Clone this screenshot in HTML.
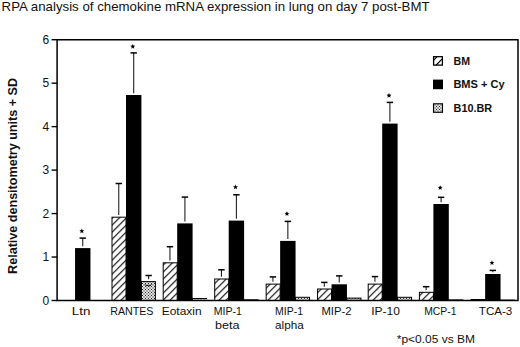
<!DOCTYPE html>
<html><head><meta charset="utf-8"><style>
html,body{margin:0;padding:0;background:#fff;}
body{width:520px;height:347px;overflow:hidden;}
svg{display:block;}
text{font-family:"Liberation Sans",sans-serif;fill:#111;}
</style></head><body>
<svg width="520" height="347" viewBox="0 0 520 347">
<defs>
<pattern id="hatch" patternUnits="userSpaceOnUse" x="0" y="1.3" width="7" height="7">
<path d="M-1,1 L1,-1 M0,7 L7,0 M6,8 L8,6" stroke="#000" stroke-width="1.1"/>
</pattern>
<pattern id="dots" patternUnits="userSpaceOnUse" width="3" height="3">
<rect width="3" height="3" fill="#fff"/>
<circle cx="0" cy="0" r="0.75" fill="#333"/><circle cx="3" cy="0" r="0.75" fill="#333"/><circle cx="0" cy="3" r="0.75" fill="#333"/><circle cx="3" cy="3" r="0.75" fill="#333"/>
<circle cx="1.5" cy="1.5" r="0.75" fill="#333"/>
</pattern>
</defs>
<text x="1.6" y="11" font-size="12.6" textLength="428" lengthAdjust="spacingAndGlyphs">RPA analysis of chemokine mRNA expression in lung on day 7 post-BMT</text>
<text transform="translate(17.3,273.9) rotate(-90)" font-size="12.5" font-weight="bold" textLength="195.9" lengthAdjust="spacingAndGlyphs">Relative densitometry units + SD</text>
<g font-size="12">
<line x1="51.6" y1="300.50" x2="57" y2="300.50" stroke="#000" stroke-width="1.4"/>
<text x="49.2" y="304.80" text-anchor="end">0</text>
<line x1="51.6" y1="257.03" x2="57" y2="257.03" stroke="#000" stroke-width="1.4"/>
<text x="49.2" y="261.33" text-anchor="end">1</text>
<line x1="51.6" y1="213.57" x2="57" y2="213.57" stroke="#000" stroke-width="1.4"/>
<text x="49.2" y="217.87" text-anchor="end">2</text>
<line x1="51.6" y1="170.10" x2="57" y2="170.10" stroke="#000" stroke-width="1.4"/>
<text x="49.2" y="174.40" text-anchor="end">3</text>
<line x1="51.6" y1="126.63" x2="57" y2="126.63" stroke="#000" stroke-width="1.4"/>
<text x="49.2" y="130.93" text-anchor="end">4</text>
<line x1="51.6" y1="83.17" x2="57" y2="83.17" stroke="#000" stroke-width="1.4"/>
<text x="49.2" y="87.47" text-anchor="end">5</text>
<line x1="51.6" y1="39.70" x2="57" y2="39.70" stroke="#000" stroke-width="1.4"/>
<text x="49.2" y="44.00" text-anchor="end">6</text>
</g>
<rect x="75.05" y="248.10" width="15.40" height="52.40" fill="#000"/>
<line x1="82.75" y1="238.10" x2="82.75" y2="246.30" stroke="#222" stroke-width="1.1"/>
<line x1="79.55" y1="238.10" x2="85.95" y2="238.10" stroke="#000" stroke-width="1.5"/>
<polygon points="81.85,228.55 82.54,230.20 84.32,230.35 82.96,231.51 83.38,233.25 81.85,232.32 80.32,233.25 80.74,231.51 79.38,230.35 81.16,230.20" fill="#000"/>
<rect x="112.00" y="217.20" width="14.00" height="83.30" fill="url(#hatch)" stroke="#000" stroke-width="1"/>
<line x1="118.75" y1="183.50" x2="118.75" y2="214.90" stroke="#222" stroke-width="1.1"/>
<line x1="115.55" y1="183.50" x2="121.95" y2="183.50" stroke="#000" stroke-width="1.5"/>
<rect x="141.40" y="281.60" width="14.00" height="18.90" fill="url(#dots)" stroke="#000" stroke-width="1"/>
<line x1="148.65" y1="275.50" x2="148.65" y2="279.30" stroke="#222" stroke-width="1.1"/>
<line x1="145.45" y1="275.50" x2="151.85" y2="275.50" stroke="#000" stroke-width="1.5"/>
<rect x="126.00" y="95.00" width="15.40" height="205.50" fill="#000"/>
<line x1="133.70" y1="52.90" x2="133.70" y2="93.20" stroke="#222" stroke-width="1.1"/>
<line x1="130.50" y1="52.90" x2="136.90" y2="52.90" stroke="#000" stroke-width="1.5"/>
<polygon points="132.80,43.95 133.49,45.60 135.27,45.75 133.91,46.91 134.33,48.65 132.80,47.72 131.27,48.65 131.69,46.91 130.33,45.75 132.11,45.60" fill="#000"/>
<rect x="163.20" y="262.80" width="14.00" height="37.70" fill="url(#hatch)" stroke="#000" stroke-width="1"/>
<line x1="169.95" y1="246.70" x2="169.95" y2="260.50" stroke="#222" stroke-width="1.1"/>
<line x1="166.75" y1="246.70" x2="173.15" y2="246.70" stroke="#000" stroke-width="1.5"/>
<rect x="192.60" y="298.50" width="14.00" height="2.00" fill="url(#dots)" stroke="#000" stroke-width="1"/>
<rect x="177.20" y="223.40" width="15.40" height="77.10" fill="#000"/>
<line x1="184.90" y1="197.10" x2="184.90" y2="221.60" stroke="#222" stroke-width="1.1"/>
<line x1="181.70" y1="197.10" x2="188.10" y2="197.10" stroke="#000" stroke-width="1.5"/>
<rect x="214.70" y="279.00" width="14.00" height="21.50" fill="url(#hatch)" stroke="#000" stroke-width="1"/>
<line x1="221.45" y1="269.80" x2="221.45" y2="276.70" stroke="#222" stroke-width="1.1"/>
<line x1="218.25" y1="269.80" x2="224.65" y2="269.80" stroke="#000" stroke-width="1.5"/>
<rect x="244.10" y="299.80" width="14.00" height="0.70" fill="url(#dots)" stroke="#000" stroke-width="1"/>
<rect x="228.70" y="220.60" width="15.40" height="79.90" fill="#000"/>
<line x1="236.40" y1="194.80" x2="236.40" y2="218.80" stroke="#222" stroke-width="1.1"/>
<line x1="233.20" y1="194.80" x2="239.60" y2="194.80" stroke="#000" stroke-width="1.5"/>
<polygon points="235.50,184.55 236.19,186.20 237.97,186.35 236.61,187.51 237.03,189.25 235.50,188.32 233.97,189.25 234.39,187.51 233.03,186.35 234.81,186.20" fill="#000"/>
<rect x="266.15" y="284.10" width="14.00" height="16.40" fill="url(#hatch)" stroke="#000" stroke-width="1"/>
<line x1="272.90" y1="276.90" x2="272.90" y2="281.80" stroke="#222" stroke-width="1.1"/>
<line x1="269.70" y1="276.90" x2="276.10" y2="276.90" stroke="#000" stroke-width="1.5"/>
<rect x="295.55" y="297.30" width="14.00" height="3.20" fill="url(#dots)" stroke="#000" stroke-width="1"/>
<rect x="280.15" y="240.90" width="15.40" height="59.60" fill="#000"/>
<line x1="287.85" y1="221.40" x2="287.85" y2="239.10" stroke="#222" stroke-width="1.1"/>
<line x1="284.65" y1="221.40" x2="291.05" y2="221.40" stroke="#000" stroke-width="1.5"/>
<polygon points="286.95,211.15 287.64,212.80 289.42,212.95 288.06,214.11 288.48,215.85 286.95,214.92 285.42,215.85 285.84,214.11 284.48,212.95 286.26,212.80" fill="#000"/>
<rect x="317.55" y="289.00" width="14.00" height="11.50" fill="url(#hatch)" stroke="#000" stroke-width="1"/>
<line x1="324.30" y1="282.40" x2="324.30" y2="286.70" stroke="#222" stroke-width="1.1"/>
<line x1="321.10" y1="282.40" x2="327.50" y2="282.40" stroke="#000" stroke-width="1.5"/>
<rect x="346.95" y="298.10" width="14.00" height="2.40" fill="url(#dots)" stroke="#000" stroke-width="1"/>
<rect x="331.55" y="284.30" width="15.40" height="16.20" fill="#000"/>
<line x1="339.25" y1="275.90" x2="339.25" y2="282.50" stroke="#222" stroke-width="1.1"/>
<line x1="336.05" y1="275.90" x2="342.45" y2="275.90" stroke="#000" stroke-width="1.5"/>
<rect x="368.20" y="284.10" width="14.00" height="16.40" fill="url(#hatch)" stroke="#000" stroke-width="1"/>
<line x1="374.95" y1="276.60" x2="374.95" y2="281.80" stroke="#222" stroke-width="1.1"/>
<line x1="371.75" y1="276.60" x2="378.15" y2="276.60" stroke="#000" stroke-width="1.5"/>
<rect x="397.60" y="297.30" width="14.00" height="3.20" fill="url(#dots)" stroke="#000" stroke-width="1"/>
<rect x="382.20" y="123.60" width="15.40" height="176.90" fill="#000"/>
<line x1="389.90" y1="102.40" x2="389.90" y2="121.80" stroke="#222" stroke-width="1.1"/>
<line x1="386.70" y1="102.40" x2="393.10" y2="102.40" stroke="#000" stroke-width="1.5"/>
<polygon points="389.00,92.95 389.69,94.60 391.47,94.75 390.11,95.91 390.53,97.65 389.00,96.72 387.47,97.65 387.89,95.91 386.53,94.75 388.31,94.60" fill="#000"/>
<rect x="419.40" y="292.30" width="14.00" height="8.20" fill="url(#hatch)" stroke="#000" stroke-width="1"/>
<line x1="426.15" y1="286.70" x2="426.15" y2="290.00" stroke="#222" stroke-width="1.1"/>
<line x1="422.95" y1="286.70" x2="429.35" y2="286.70" stroke="#000" stroke-width="1.5"/>
<rect x="448.80" y="299.90" width="14.00" height="0.60" fill="url(#dots)" stroke="#000" stroke-width="1"/>
<rect x="433.40" y="204.00" width="15.40" height="96.50" fill="#000"/>
<line x1="441.10" y1="197.30" x2="441.10" y2="202.20" stroke="#222" stroke-width="1.1"/>
<line x1="437.90" y1="197.30" x2="444.30" y2="197.30" stroke="#000" stroke-width="1.5"/>
<polygon points="440.20,185.15 440.89,186.80 442.67,186.95 441.31,188.11 441.73,189.85 440.20,188.92 438.67,189.85 439.09,188.11 437.73,186.95 439.51,186.80" fill="#000"/>
<rect x="471.15" y="299.50" width="14.00" height="1.00" fill="url(#hatch)" stroke="#000" stroke-width="1"/>
<rect x="500.55" y="300.10" width="14.00" height="0.40" fill="url(#dots)" stroke="#000" stroke-width="1"/>
<rect x="485.15" y="274.00" width="15.40" height="26.50" fill="#000"/>
<line x1="492.85" y1="270.40" x2="492.85" y2="272.20" stroke="#222" stroke-width="1.1"/>
<line x1="489.65" y1="270.40" x2="496.05" y2="270.40" stroke="#000" stroke-width="1.5"/>
<polygon points="491.95,260.35 492.64,262.00 494.42,262.15 493.06,263.31 493.48,265.05 491.95,264.12 490.42,265.05 490.84,263.31 489.48,262.15 491.26,262.00" fill="#000"/>
<path d="M145,284.3 Q146.6,287.2 148.3,285.2 Q150,287.2 151.6,284.3" fill="none" stroke="#000" stroke-width="1"/>
<path d="M57.1,39.7 L518,39.7 L518,300.5 L57.1,300.5 Z" fill="none" stroke="#000" stroke-width="1.5"/>
<g font-size="11.5">
<text x="71.70" y="315.1" textLength="18.70" lengthAdjust="spacingAndGlyphs">Ltn</text>
<text x="110.20" y="315.1" textLength="43.30" lengthAdjust="spacingAndGlyphs">RANTES</text>
<text x="161.70" y="315.1" textLength="39.90" lengthAdjust="spacingAndGlyphs">Eotaxin</text>
<text x="213.70" y="315.1" textLength="28.20" lengthAdjust="spacingAndGlyphs">MIP-1</text>
<text x="215.10" y="329.2" textLength="24.50" lengthAdjust="spacingAndGlyphs">beta</text>
<text x="275.10" y="315.1" textLength="28.00" lengthAdjust="spacingAndGlyphs">MIP-1</text>
<text x="275.10" y="329.2" textLength="28.70" lengthAdjust="spacingAndGlyphs">alpha</text>
<text x="321.40" y="315.1" textLength="30.10" lengthAdjust="spacingAndGlyphs">MIP-2</text>
<text x="371.20" y="315.1" textLength="28.70" lengthAdjust="spacingAndGlyphs">IP-10</text>
<text x="424.20" y="315.1" textLength="32.30" lengthAdjust="spacingAndGlyphs">MCP-1</text>
<text x="478.80" y="315.1" textLength="33.50" lengthAdjust="spacingAndGlyphs">TCA-3</text>
</g>
<text x="396.8" y="342.8" font-size="11" textLength="78.2" lengthAdjust="spacingAndGlyphs">*p&lt;0.05 vs BM</text>
<rect x="433.6" y="56.7" width="8.8" height="8.4" fill="#fff" stroke="#000" stroke-width="1.3"/>
<path d="M436.2,65 L442.5,58.7 M433.5,60.3 L437,56.8" stroke="#000" stroke-width="1.1"/>
<rect x="433" y="79.6" width="10" height="9.6" fill="#000"/>
<rect x="433.5" y="103.8" width="9" height="8.5" fill="url(#dots)" stroke="#000" stroke-width="1.1"/>
<g font-size="10" font-weight="bold">
<text x="453.6" y="64.6" textLength="16.5" lengthAdjust="spacingAndGlyphs">BM</text>
<text x="453.4" y="87.7" textLength="51.2" lengthAdjust="spacingAndGlyphs">BMS + Cy</text>
<text x="453.6" y="112.2" textLength="38.6" lengthAdjust="spacingAndGlyphs">B10.BR</text>
</g>
</svg>
</body></html>
